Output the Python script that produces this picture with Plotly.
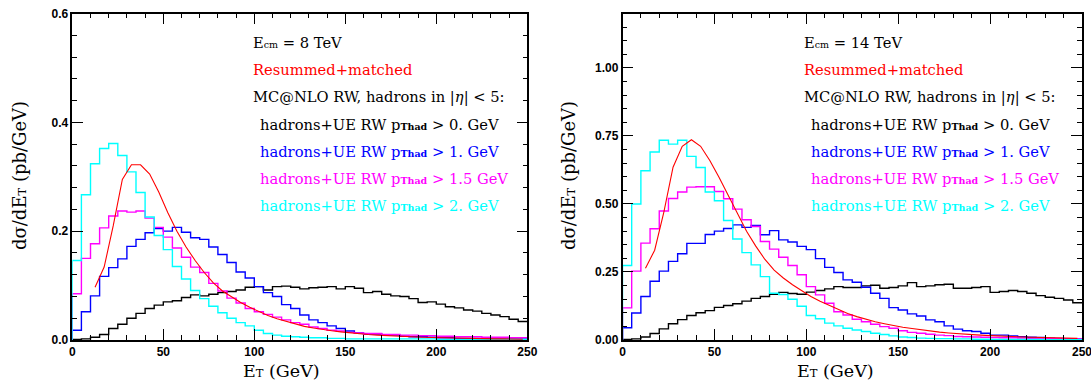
import numpy as np
import plotly.graph_objects as go

W, H = 1091, 383

# ---------------- data ----------------
bin_edges = np.arange(0, 255, 5)          # 0 ... 250 GeV, 5 GeV bins
red_x = np.arange(12.5, 250, 5)           # resummed curve sampled at bin centres

# 8 TeV
black_8 = [0.001, 0.002, 0.005, 0.010, 0.021, 0.029, 0.040, 0.049, 0.058, 0.064,
           0.070, 0.072, 0.078, 0.083, 0.081, 0.084, 0.087, 0.089, 0.092, 0.097,
           0.098, 0.092, 0.098, 0.099, 0.097, 0.094, 0.096, 0.097, 0.098, 0.094,
           0.098, 0.095, 0.087, 0.089, 0.084, 0.081, 0.080, 0.076, 0.069, 0.070,
           0.066, 0.061, 0.059, 0.055, 0.053, 0.049, 0.046, 0.043, 0.038, 0.034]
blue_8 = [0.018, 0.052, 0.081, 0.117, 0.133, 0.149, 0.172, 0.185, 0.197, 0.205,
          0.200, 0.207, 0.198, 0.188, 0.185, 0.171, 0.157, 0.1425, 0.125, 0.114,
          0.098, 0.087, 0.080, 0.065, 0.058, 0.046, 0.037, 0.032, 0.026, 0.021,
          0.0165, 0.013, 0.011, 0.011, 0.009, 0.009, 0.007, 0.006, 0.006, 0.005,
          0.004, 0.004, 0.003, 0.003, 0.003, 0.003, 0.002, 0.002, 0.002, 0.002]
magenta_8 = [0.085, 0.150, 0.177, 0.206, 0.228, 0.237, 0.235, 0.237, 0.224, 0.207,
             0.189, 0.169, 0.152, 0.134, 0.124, 0.104, 0.090, 0.077, 0.068, 0.058,
             0.052, 0.047, 0.042, 0.037, 0.032, 0.029, 0.024, 0.021, 0.018, 0.0165,
             0.014, 0.013, 0.012, 0.012, 0.010, 0.010, 0.009, 0.009, 0.008, 0.008,
             0.007, 0.007, 0.006, 0.006, 0.006, 0.005, 0.005, 0.005, 0.004, 0.004]
cyan_8 = [0.146, 0.267, 0.324, 0.352, 0.361, 0.339, 0.309, 0.271, 0.226, 0.192,
          0.166, 0.135, 0.112, 0.091, 0.076, 0.062, 0.050, 0.040, 0.032, 0.026,
          0.018, 0.012, 0.009, 0.007, 0.006, 0.005, 0.004, 0.004, 0.003, 0.003,
          0.002, 0.002, 0.002, 0.002, 0.002, 0.002, 0.002, 0.002, 0.002, 0.002,
          0.001, 0.001, 0.001, 0.001, 0.001, 0.001, 0.001, 0.001, 0.001, 0.001]
red_8 = [0.097, 0.134, 0.210, 0.295, 0.322, 0.322, 0.305, 0.272, 0.234, 0.200,
         0.171, 0.146, 0.124, 0.105, 0.090, 0.079, 0.069, 0.060, 0.052, 0.045,
         0.039, 0.034, 0.029, 0.025, 0.022, 0.019, 0.017, 0.015, 0.013, 0.011,
         0.010, 0.009, 0.008, 0.007, 0.006, 0.0055, 0.005, 0.0045, 0.004, 0.0035,
         0.003, 0.003, 0.0025, 0.002, 0.002, 0.002, 0.0015, 0.0015]

# 14 TeV
black_14 = [0.002, 0.004, 0.011, 0.024, 0.041, 0.060, 0.075, 0.090, 0.100, 0.108,
            0.120, 0.127, 0.133, 0.143, 0.153, 0.160, 0.168, 0.175, 0.171, 0.168,
            0.176, 0.182, 0.188, 0.196, 0.193, 0.193, 0.199, 0.201, 0.190, 0.193,
            0.199, 0.211, 0.196, 0.199, 0.203, 0.205, 0.190, 0.190, 0.193, 0.196,
            0.175, 0.178, 0.182, 0.178, 0.172, 0.163, 0.157, 0.153, 0.147, 0.137]
blue_14 = [0.045, 0.099, 0.160, 0.216, 0.253, 0.289, 0.317, 0.355, 0.355, 0.388,
           0.400, 0.410, 0.423, 0.414, 0.421, 0.387, 0.402, 0.368, 0.360, 0.344,
           0.332, 0.299, 0.267, 0.248, 0.221, 0.212, 0.194, 0.172, 0.153, 0.119,
           0.110, 0.096, 0.088, 0.074, 0.067, 0.052, 0.040, 0.034, 0.031, 0.025,
           0.018, 0.018, 0.015, 0.012, 0.010, 0.009, 0.007, 0.006, 0.005, 0.004]
magenta_14 = [0.118, 0.253, 0.356, 0.409, 0.474, 0.520, 0.544, 0.562, 0.563, 0.563,
              0.546, 0.519, 0.481, 0.442, 0.417, 0.362, 0.334, 0.304, 0.274, 0.240,
              0.196, 0.166, 0.135, 0.104, 0.092, 0.076, 0.067, 0.058, 0.049, 0.043,
              0.034, 0.028, 0.025, 0.021, 0.018, 0.016, 0.013, 0.012, 0.011, 0.010,
              0.009, 0.008, 0.008, 0.007, 0.006, 0.006, 0.005, 0.005, 0.004, 0.004]
cyan_14 = [0.274, 0.500, 0.622, 0.691, 0.734, 0.720, 0.734, 0.675, 0.634, 0.544,
           0.512, 0.439, 0.371, 0.321, 0.276, 0.233, 0.172, 0.167, 0.150, 0.124,
           0.090, 0.078, 0.062, 0.052, 0.043, 0.037, 0.031, 0.025, 0.020, 0.015,
           0.011, 0.009, 0.007, 0.006, 0.005, 0.005, 0.004, 0.004, 0.003, 0.003,
           0.002, 0.002, 0.002, 0.002, 0.002, 0.002, 0.001, 0.001, 0.001, 0.001]
red_14 = [0.264, 0.330, 0.470, 0.635, 0.712, 0.736, 0.712, 0.660, 0.598, 0.533,
          0.466, 0.400, 0.345, 0.296, 0.257, 0.228, 0.203, 0.181, 0.160, 0.142,
          0.126, 0.111, 0.097, 0.086, 0.076, 0.067, 0.060, 0.053, 0.047, 0.042,
          0.037, 0.033, 0.029, 0.026, 0.023, 0.021, 0.019, 0.017, 0.015, 0.014,
          0.012, 0.011, 0.010, 0.009, 0.008, 0.007, 0.0065, 0.006]

energies = ["8", "14"]
cut_labels = ["0.", "1.", "1.5", "2."]
colors = ["#000000", "#0000ff", "#ff00ff", "#00ffff"]
red_color = "#ff0000"
x_max_label = "250"

# ---------------- figure ----------------
fig = go.Figure()


def hist_xy(vals):
    x = np.concatenate([[0.0], bin_edges])
    y = np.concatenate([[0.0], vals, [vals[-1]]])
    return x, y


panels = [
    ([black_8, blue_8, magenta_8, cyan_8], red_8, "x", "y"),
    ([black_14, blue_14, magenta_14, cyan_14], red_14, "x2", "y2"),
]
for hists, red, xa, ya in panels:
    for vals, col in zip(hists, colors):
        hx, hy = hist_xy(vals)
        fig.add_trace(go.Scatter(x=hx, y=hy, mode="lines", line=dict(color=col, width=1.4, shape="hv"),
                                 xaxis=xa, yaxis=ya, showlegend=False, hoverinfo="skip"))
    fig.add_trace(go.Scatter(x=red_x, y=red, mode="lines", line=dict(color=red_color, width=1.1),
                             xaxis=xa, yaxis=ya, showlegend=False, hoverinfo="skip"))

# panel geometry in pixels
L0, L1 = 72.3, 527.3
R0, R1 = 622.5, 1082.0
TOP, BOT = 13.5, 340.0


def px(x):
    return x / W


def py(y):
    return 1 - y / H


tick_font = dict(family="Liberation Sans, Arial", size=12, color="black", weight="bold")
axis_common = dict(showline=True, linecolor="black", linewidth=1.5, mirror="allticks",
                   ticks="inside", ticklen=11, tickwidth=1.3, tickcolor="black",
                   showgrid=False, zeroline=False, automargin=False, tickfont=tick_font)

fig.update_layout(
    width=W, height=H, autosize=False, margin=dict(l=0, r=0, t=0, b=0, pad=0),
    paper_bgcolor="white", plot_bgcolor="white",
    xaxis=dict(domain=[px(L0), px(L1)], range=[0, 250], dtick=50, anchor="y",
               minor=dict(dtick=10, ticklen=5, tickwidth=1.1, tickcolor="black", ticks="inside"),
               **axis_common),
    yaxis=dict(domain=[py(BOT), py(TOP)], range=[0, 0.6], dtick=0.2, tickformat=".1f", anchor="x",
               minor=dict(dtick=0.04, ticklen=5, tickwidth=1.1, tickcolor="black", ticks="inside"),
               **axis_common),
    xaxis2=dict(domain=[px(R0), px(R1)], range=[0, 250], dtick=50, anchor="y2",
                minor=dict(dtick=10, ticklen=5, tickwidth=1.1, tickcolor="black", ticks="inside"),
                **axis_common),
    yaxis2=dict(domain=[py(BOT), py(TOP)], range=[0, 1.2], dtick=0.25, tickformat=".2f", anchor="x2",
                minor=dict(dtick=0.05, ticklen=5, tickwidth=1.1, tickcolor="black", ticks="inside"),
                **axis_common),
)

serif = "DejaVu Serif"
annos = []


def add_text(x, y, text, color="black", size=14.7, **kw):
    annos.append(dict(x=px(x), y=py(y), xref="paper", yref="paper", text=text, showarrow=False,
                      xanchor=kw.get("xanchor", "left"), yanchor="middle", textangle=kw.get("angle", 0),
                      font=kw.get("font", dict(family=serif, size=size, color=color))))


sub = "<span style='font-size:9.5px'>{}</span>"
for (tx, hx), e in zip([(251.0, 258.0), (801.5, 809.0)], energies):
    add_text(tx, 42, "E" + sub.format("cm") + " = " + e + " TeV")
    add_text(tx, 69.5, "Resummed+matched", color=red_color)
    add_text(tx, 96.5, "MC@NLO RW, hadrons in |<i>η</i>| &lt; 5:")
    for k, (cut, col) in enumerate(zip(cut_labels, colors)):
        add_text(hx, 124 + k * 27, "hadrons+UE RW p" + sub.format("<b>Thad</b>") + " &gt; " + cut + " GeV",
                 color=col)

# axis titles
et = "E<span style='font-size:11.5px'>T</span>"
add_text(281, 371, et + " (GeV)", size=17.5, xanchor="center")
add_text(835, 371, et + " (GeV)", size=17.5, xanchor="center")
add_text(19, 176, "dσ/d" + et + " (pb/GeV)", size=18, xanchor="center", angle=-90)
add_text(568, 176, "dσ/d" + et + " (pb/GeV)", size=18, xanchor="center", angle=-90)

# last tick label of the right panel (clipped at the page edge, as in the original)
add_text(R1, 352, x_max_label, xanchor="center", font=tick_font)

fig.update_layout(annotations=annos)
fig.write_html(
    "out.html",
    config={"displayModeBar": False, "responsive": False},
    post_script=("document.body.style.margin='0';document.body.style.padding='0';"
                 "document.body.style.overflow='hidden';"
                 "var gd=document.getElementById('{plot_id}');"
                 "gd.style.position='absolute';gd.style.left='0px';gd.style.top='0px';"
                 "Plotly.relayout(gd,{width:1091,height:383});"),
)
